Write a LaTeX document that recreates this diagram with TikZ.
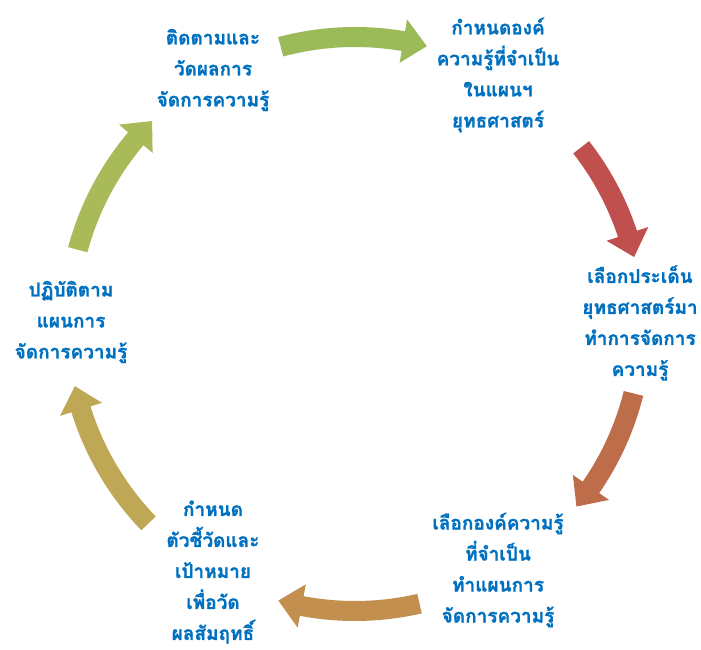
\documentclass[tikz,border=0pt]{standalone}
\usepackage{fontspec}
\newfontfamily\thaifont[Script=Thai, BoldFeatures={FakeBold=1.2}]{Loma}
\definecolor{kmblue}{HTML}{0070C0}
\definecolor{kmgreen}{HTML}{9BBB59}
\definecolor{kmred}{HTML}{C0504D}
\definecolor{kmrust}{HTML}{BE6D4B}
\definecolor{kmtan}{HTML}{C28F4E}
\definecolor{kmkhaki}{HTML}{BFA855}
\definecolor{kmlime}{HTML}{A9BB59}
% curved block arrow on the ring: #1 start angle, #2 end angle, #3 colour
\newcommand{\cyclearrow}[3]{%
  \fill[#3] (#1:297) arc[start angle=#1, end angle=#2+4.8, radius=297]
    -- (#2+4.8:309) -- (#2:287) -- (#2+4.8:265) -- (#2+4.8:277)
    arc[start angle=#2+4.8, end angle=#1, radius=277] -- cycle;}
\begin{document}
\begin{tikzpicture}[x=1pt, y=1pt,
    stage/.style={align=center, text=kmblue, inner sep=0pt,
      font=\thaifont\bfseries\fontsize{19}{31}\selectfont}]
        \useasboundingbox (-355,-326) rectangle (346,324);

        \cyclearrow{105}{75.5}{kmgreen}
        \cyclearrow{38}{13.5}{kmred}
        \cyclearrow{-14}{-39.5}{kmrust}
        \cyclearrow{-77}{-105.5}{kmtan}
        \cyclearrow{-136}{-167.5}{kmkhaki}
        \cyclearrow{165}{135}{kmlime}

        \node[stage] (S1) at (143,249) {กำหนดองค์\\ความรู้ที่จำเป็น\\ในแผนฯ\\ยุทธศาสตร์};
        \node[stage] (S2) at (285,1) {เลือกประเด็น\\ยุทธศาสตร์มา\\ทำการจัดการ\\ความรู้};
        \node[stage] (S3) at (143,-246) {เลือกองค์ความรู้\\ที่จำเป็น\\ทำแผนการ\\จัดการความรู้};
        \node[stage] (S4) at (-142,-248) {กำหนด\\ตัวชี้วัดและ\\เป้าหมาย\\เพื่อวัด\\ผลสัมฤทธิ์};
        \node[stage] (S5) at (-284,2) {ปฏิบัติตาม\\แผนการ\\จัดการความรู้};
        \node[stage] (S6) at (-142,254) {ติดตามและ\\วัดผลการ\\จัดการความรู้};
    \end{tikzpicture}
\end{document}
